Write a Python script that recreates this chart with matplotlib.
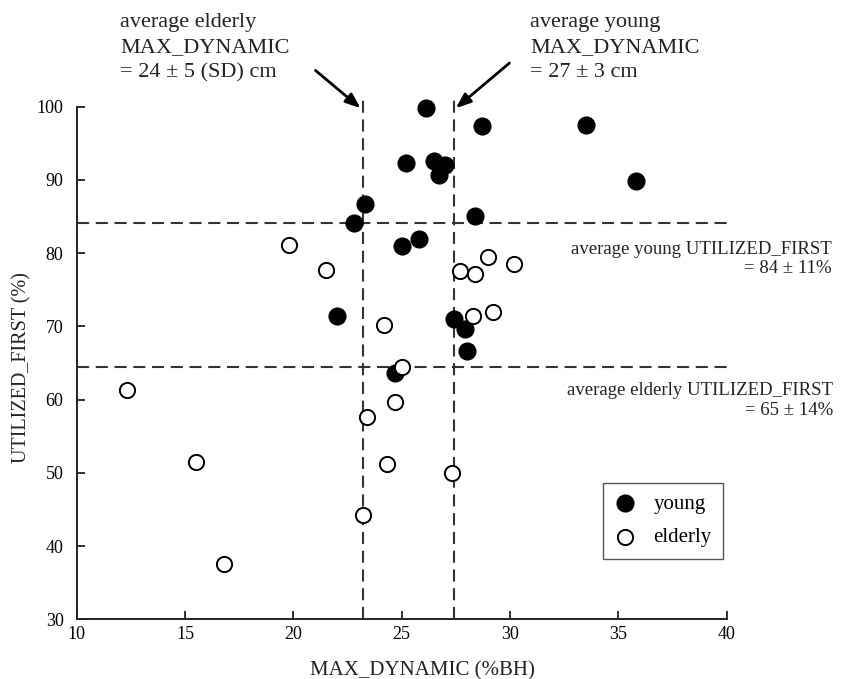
import matplotlib
matplotlib.use("Agg")
import matplotlib.pyplot as plt

plt.rcParams['font.family'] = ['Liberation Serif', 'DejaVu Serif']

# ---- data ----
young_x = [26.1, 28.7, 33.5, 35.8, 25.2, 26.5, 27.0, 26.7, 28.4, 23.3, 22.8, 25.0, 25.8, 22.0, 24.7, 27.4, 27.9, 28.0]
young_y = [99.8, 97.3, 97.5, 89.9, 92.3, 92.6, 92.0, 90.7, 85.1, 86.7, 84.1, 81.0, 81.9, 71.4, 63.7, 71.0, 69.6, 66.6]
elderly_x = [19.8, 21.5, 29.0, 30.2, 27.7, 28.4, 24.2, 25.0, 12.3, 24.7, 23.4, 15.5, 24.3, 23.2, 16.8, 28.3, 29.2, 27.3]
elderly_y = [81.1, 77.7, 79.5, 78.5, 77.5, 77.2, 70.2, 64.4, 61.3, 59.7, 57.6, 51.5, 51.2, 44.3, 37.6, 71.4, 72.0, 50.0]

elderly_md_mean = 23.2
young_md_mean = 27.4
young_uf_mean = 84.1
elderly_uf_mean = 64.5

x_ticks = [10, 15, 20, 25, 30, 35, 40]
y_ticks = [30, 40, 50, 60, 70, 80, 90, 100]

W, H = 843, 679
fig = plt.figure(figsize=(W / 100, H / 100), dpi=100)
ax = fig.add_axes([76.7 / W, 1 - 619.3 / H, 650 / W, 523.6 / H])
ax.set_xlim(10, 40)
ax.set_ylim(30, 101.5)

dash_kw = dict(color='#333333', lw=1.5, dashes=(5.8, 3.2), zorder=1)
ax.axvline(elderly_md_mean, **dash_kw)
ax.axvline(young_md_mean, **dash_kw)
ax.axhline(young_uf_mean, **dash_kw)
ax.axhline(elderly_uf_mean, **dash_kw)

ax.scatter(young_x, young_y, s=150, facecolor='black', edgecolor='black', linewidth=0.8,
           zorder=3, label='young')
ax.scatter(elderly_x, elderly_y, s=120, facecolor='white', edgecolor='black', linewidth=1.4,
           zorder=4, label='elderly')

for s in ['top', 'right']:
    ax.spines[s].set_visible(False)
for s in ['left', 'bottom']:
    ax.spines[s].set_linewidth(1.4)
    ax.spines[s].set_color('#222222')
ax.spines['left'].set_bounds(30, 100)

ax.set_xticks(x_ticks)
ax.set_yticks(y_ticks)
ax.tick_params(direction='in', length=6, width=1.3, color='#222222', labelsize=13)
ax.tick_params(axis='y', pad=9.5)
ax.tick_params(axis='x', pad=4.5)

fig.text(422.5 / W, 1 - 675.5 / H, 'MAX_DYNAMIC (%BH)', fontsize=15, ha='center', va='baseline',
         color='#222222')
fig.text(22 / W, 1 - 368 / H, 'UTILIZED_FIRST (%)', fontsize=14.5, rotation=90, ha='center',
         va='center', color='#222222')

# top annotations (va='baseline' aligns the last line)
fig.text(120 / W, 1 - 77 / H, 'average elderly\nMAX_DYNAMIC\n= 24 \u00b1 5 (SD) cm', fontsize=16,
         ha='left', va='baseline', linespacing=1.42, color='#222222')
fig.text(530 / W, 1 - 77 / H, 'average young\nMAX_DYNAMIC\n= 27 \u00b1 3 cm', fontsize=16,
         ha='left', va='baseline', linespacing=1.42, color='#222222')

arrow_kw = dict(arrowstyle='-|>,head_length=0.9,head_width=0.35', color='black', lw=2)
ax.annotate('', xy=(elderly_md_mean, 99.55), xytext=(20.92, 105.2), xycoords='data',
            arrowprops=arrow_kw, annotation_clip=False)
ax.annotate('', xy=(young_md_mean, 99.55), xytext=(30.07, 106.2), xycoords='data',
            arrowprops=arrow_kw, annotation_clip=False)

# right annotations
fig.text(832 / W, 1 - 273.3 / H, 'average young UTILIZED_FIRST\n= 84 \u00b1 11%', fontsize=13.5,
         ha='right', va='baseline', multialignment='right', linespacing=1.2, color='#222222')
fig.text(833 / W, 1 - 415 / H, 'average elderly UTILIZED_FIRST\n= 65 \u00b1 14%', fontsize=13.5,
         ha='right', va='baseline', multialignment='right', linespacing=1.2, color='#222222')

leg = ax.legend(loc='upper left', bbox_to_anchor=(603.3 / W, 1 - 482.7 / H),
                bbox_transform=fig.transFigure, borderaxespad=0, fontsize=15,
                handlelength=1.0, handletextpad=0.86, borderpad=0.54, labelspacing=0.68,
                fancybox=False, framealpha=1, edgecolor='#555555')
leg.get_frame().set_linewidth(1.0)

fig.savefig('out.png', dpi=100)
